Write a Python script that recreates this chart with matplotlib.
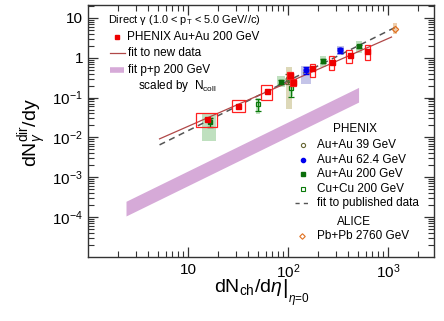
import numpy as np
import matplotlib
matplotlib.use('Agg')
import matplotlib.pyplot as plt
from matplotlib.patches import Rectangle
from matplotlib.lines import Line2D
from matplotlib.ticker import FixedLocator, LogLocator, NullFormatter

plt.rcParams['font.family'] = ['Liberation Sans', 'DejaVu Sans']
plt.rcParams['mathtext.fontset'] = 'custom'
plt.rcParams['mathtext.rm'] = 'Liberation Sans'
plt.rcParams['mathtext.it'] = 'Liberation Sans:italic'
plt.rcParams['mathtext.bf'] = 'Liberation Sans:bold'

# PHENIX Au+Au 200 GeV, new data (systematic box bounds)
new_x = [15.6, 31.8, 61.7, 105, 112, 176, 276, 414, 617]
new_y = [0.029, 0.063, 0.15, 0.36, 0.25, 0.55, 0.78, 1.14, 1.5]
new_xlo = [12.1, 27.5, 53.7, 98, 104, 166, 256, 380, 585]
new_xhi = [19.5, 37.1, 69.2, 113, 120, 189, 288, 437, 661]
new_ylo = [0.018, 0.044, 0.087, 0.29, 0.197, 0.33, 0.48, 0.75, 0.86]
new_yhi = [0.041, 0.087, 0.21, 0.43, 0.30, 0.68, 1.08, 1.59, 2.04]

# PHENIX Au+Au 200 GeV, published
auau200_x = [16.6, 85.1, 106, 224, 517]
auau200_y = [0.0245, 0.25, 0.33, 0.83, 1.93]
auau200_err = [0.006, 0.03, 0.04, 0.08, 0.15]
auau200_xlo = [13.8, 77, 98, 209, 480]
auau200_xhi = [19.1, 93, 113, 240, 550]
auau200_ylo = [0.0081, 0.186, 0.24, 0.59, 1.34]
auau200_yhi = [0.039, 0.35, 0.45, 1.12, 2.68]

# PHENIX Au+Au 62.4 GeV
auau62_x = [151, 336]
auau62_y = [0.48, 1.53]
auau62_err = [0.1, 0.25]
auau62_xlo = [135, 313]
auau62_xhi = [170, 367]
auau62_ylo = [0.22, 1.14]
auau62_yhi = [0.63, 1.93]

# PHENIX Au+Au 39 GeV
auau39_x = [100]
auau39_y = [0.3]
auau39_err = [0.08]
auau39_xlo = [95.6]
auau39_xhi = [111]
auau39_ylo = [0.052]
auau39_yhi = [0.59]

# PHENIX Cu+Cu 200 GeV
cucu_x = [50.5, 108]
cucu_y = [0.069, 0.176]
cucu_err_lo = [0.023, 0.072]
cucu_err_hi = [0.024, 0.074]
cucu_xlo = [48, 103]
cucu_xhi = [53, 113]
cucu_ylo = [0.039, 0.11]
cucu_yhi = [0.098, 0.26]

# ALICE Pb+Pb 2760 GeV
alice_x = [1184]
alice_y = [5.4]
alice_xlo = [1120]
alice_xhi = [1250]
alice_ylo = [3.9]
alice_yhi = [7.5]

# fits
fit_new_x = [5.2, 1090]
fit_new_y = [0.0092, 3.3]
fit_pub_x = [5.2, 1190]
fit_pub_y = [0.0065, 5.8]
pp_x = [2.4, 510]
pp_lo = [1.07e-4, 0.077]
pp_hi = [2.5e-4, 0.18]

W, H = 444, 321
fig = plt.figure(figsize=(W / 100, H / 100), dpi=100)
ax = fig.add_axes([88 / W, 1 - 257 / H, (434 - 88) / W, (257 - 5) / H])
ax.set_xscale('log')
ax.set_yscale('log')
ax.set_xlim(1, 2900)
ax.set_ylim(1e-5, 21)


def boxes(xlo, xhi, ylo, yhi, **kw):
    for a, b, c, d in zip(xlo, xhi, ylo, yhi):
        ax.add_patch(Rectangle((a, c), b - a, d - c, **kw))


# p+p band
ax.fill_between(pp_x, pp_lo, pp_hi, color='#d6aad8', lw=0, zorder=1)

# shaded systematics
boxes(auau39_xlo, auau39_xhi, auau39_ylo, auau39_yhi, facecolor='#ddd8b8', edgecolor='none', zorder=2)
boxes(auau200_xlo, auau200_xhi, auau200_ylo, auau200_yhi, facecolor='#bfe0bf', edgecolor='none', zorder=2)
boxes(cucu_xlo, cucu_xhi, cucu_ylo, cucu_yhi, facecolor='#bfe0bf', edgecolor='none', zorder=2)
boxes(auau62_xlo, auau62_xhi, auau62_ylo, auau62_yhi, facecolor='#c4c4e8', edgecolor='none', zorder=2)
boxes(alice_xlo, alice_xhi, alice_ylo, alice_yhi, facecolor='#efcfae', edgecolor='none', zorder=2)

# fits
ax.plot(fit_pub_x, fit_pub_y, color='#555555', lw=1.1, dashes=(4, 3), zorder=3)
ax.plot(fit_new_x, fit_new_y, color='#b04848', lw=0.9, zorder=4)

# published points
ax.errorbar(auau39_x, auau39_y, yerr=auau39_err, fmt='o', ms=3.5, mfc='none', mec='#666633',
            ecolor='#666633', mew=0.9, capsize=2, elinewidth=0.9, zorder=5)
ax.errorbar(auau200_x, auau200_y, yerr=auau200_err, fmt='s', ms=3.5, color='#0a6e0a',
            capsize=2, elinewidth=0.9, zorder=5)
ax.errorbar(cucu_x, cucu_y, yerr=[cucu_err_lo, cucu_err_hi], fmt='s', ms=3.5, mfc='none', mec='#0a7a0a',
            ecolor='#0a7a0a', mew=0.9, capsize=2, elinewidth=0.9, zorder=5)
ax.errorbar(auau62_x, auau62_y, yerr=auau62_err, fmt='o', ms=3.5, color='#0000ee',
            capsize=2, elinewidth=0.9, zorder=5)
ax.plot(alice_x, alice_y, 'D', ms=3.2, mfc='none', mec='#e07020', mew=0.9, zorder=5)

# new data
boxes(new_xlo, new_xhi, new_ylo, new_yhi, facecolor='none', edgecolor='#ff2020', lw=0.9, zorder=6)
ax.plot(new_x, new_y, 's', ms=3.6, color='#ee0000', zorder=7)

# axes styling
for s in ax.spines.values():
    s.set_linewidth(1.0)
    s.set_color('#333333')
ax.tick_params(which='both', direction='in', top=True, right=True, color='#333333', labelsize=11)
ax.tick_params(which='major', length=7, width=0.9)
ax.tick_params(which='minor', length=4, width=0.8)
ax.xaxis.set_major_locator(FixedLocator([10, 100, 1000]))
ax.set_xticklabels(['10', r'$10^{2}$', r'$10^{3}$'])
ax.xaxis.set_minor_locator(LogLocator(base=10, subs=np.arange(2, 10), numticks=20))
ax.xaxis.set_minor_formatter(NullFormatter())
ax.yaxis.set_major_locator(FixedLocator([1e-4, 1e-3, 1e-2, 1e-1, 1, 10]))
ax.set_yticklabels([r'$10^{-4}$', r'$10^{-3}$', r'$10^{-2}$', r'$10^{-1}$', '1', '10'])
ax.yaxis.set_minor_locator(LogLocator(base=10, subs=np.arange(2, 10), numticks=20))
ax.yaxis.set_minor_formatter(NullFormatter())
ax.tick_params(axis='x', pad=4)


def fpos(x, y):
    return x / W, 1 - y / H


# axis titles
fig.text(*fpos(33, 133), r'dN$_{\gamma}^{\rm dir}$/dy', rotation=90, ha='center', va='center', fontsize=14)
fig.text(*fpos(214, 287), r'dN$_{\rm ch}$/d$\eta$', ha='left', va='center', fontsize=14)
fig.text(*fpos(285, 289), '|', ha='center', va='center', fontsize=15)
fig.text(*fpos(288, 299), r'$\eta$=0', ha='left', va='center', fontsize=8.5)


def fmark(x, y, **kw):
    fig.add_artist(Line2D([x / W], [1 - y / H], **kw))


def fline(x0, x1, y, **kw):
    fig.add_artist(Line2D([x0 / W, x1 / W], [1 - y / H, 1 - y / H], **kw))


fs = 8.5
# top-left legend
fig.text(*fpos(108, 20), 'Direct γ (1.0 < p$_{\\rm T}$ < 5.0 GeV//c)', fontsize=7.9, va='center')
fmark(117, 37, marker='s', ms=3.5, color='#ee0000', ls='none')
fig.text(*fpos(127, 37), 'PHENIX Au+Au 200 GeV', fontsize=fs, va='center')
fline(110, 125, 53, color='#b04848', lw=0.9)
fig.text(*fpos(128, 53), 'fit to new data', fontsize=fs, va='center')
fline(110, 124, 70, color='#d6aad8', lw=4, solid_capstyle='butt')
fig.text(*fpos(128, 70), 'fit p+p 200 GeV', fontsize=fs, va='center')
fig.text(*fpos(138, 86), r'scaled by  N$_{\rm coll}$', fontsize=fs, va='center')

# bottom-right legend
fig.text(*fpos(355, 129), 'PHENIX', fontsize=fs, va='center', ha='center')
fmark(303, 145, marker='o', ms=3, mfc='none', mec='#666633', mew=0.8, ls='none')
fig.text(*fpos(317, 145), 'Au+Au 39 GeV', fontsize=fs, va='center')
fmark(303, 160, marker='o', ms=3, color='#0000ee', ls='none')
fig.text(*fpos(317, 160), 'Au+Au 62.4 GeV', fontsize=fs, va='center')
fmark(303, 174, marker='s', ms=3, color='#0a6e0a', ls='none')
fig.text(*fpos(317, 174), 'Au+Au 200 GeV', fontsize=fs, va='center')
fmark(303, 189, marker='s', ms=3, mfc='none', mec='#0a7a0a', mew=0.8, ls='none')
fig.text(*fpos(317, 189), 'Cu+Cu 200 GeV', fontsize=fs, va='center')
fline(295, 309, 203, color='#555555', lw=1, dashes=(3, 3))
fig.text(*fpos(317, 203), 'fit to published data', fontsize=fs, va='center')
fig.text(*fpos(354, 222), 'ALICE', fontsize=fs, va='center', ha='center')
fmark(302, 236, marker='D', ms=2.8, mfc='none', mec='#e07020', mew=0.8, ls='none')
fig.text(*fpos(317, 236), 'Pb+Pb 2760 GeV', fontsize=fs, va='center')

fig.savefig('out.png', dpi=100)
